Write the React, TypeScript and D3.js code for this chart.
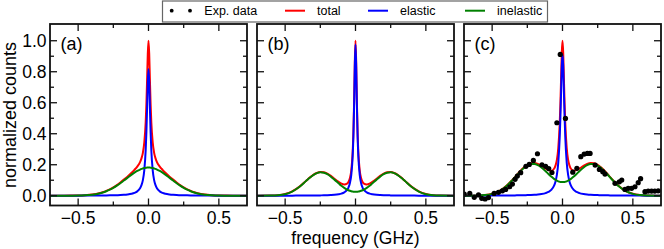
import React from "react";
import * as d3 from "d3";

// fitted curves are even in frequency: values read from 0 GHz outwards, mirrored below
const freqHalf = [0, 0.005, 0.01, 0.015, 0.02, 0.03, 0.04, 0.05, 0.06, 0.08, 0.1, 0.12, 0.15, 0.175, 0.2, 0.225, 0.25, 0.275, 0.3, 0.325, 0.35, 0.4, 0.45, 0.5, 0.55, 0.6, 0.7];

const totalA = [1.0, 0.918, 0.748, 0.59, 0.474, 0.343, 0.277, 0.241, 0.217, 0.188, 0.167, 0.1485, 0.123, 0.104, 0.0856, 0.0686, 0.0539, 0.0414, 0.031, 0.0227, 0.0165, 0.0082, 0.0039, 0.0017, 0.001, 0.0006, 0.0004];
const elasticA = [0.818, 0.736, 0.566, 0.409, 0.294, 0.164, 0.101, 0.068, 0.048, 0.028, 0.018, 0.0125, 0.0081, 0.006, 0.0046, 0.0036, 0.0029, 0.0024, 0.002, 0.0017, 0.0015, 0.0012, 0.0009, 0.0007, 0.0006, 0.0005, 0.0004];
const inelasticA = [0.182, 0.182, 0.182, 0.181, 0.18, 0.179, 0.176, 0.173, 0.169, 0.16, 0.149, 0.136, 0.115, 0.098, 0.081, 0.065, 0.051, 0.039, 0.029, 0.021, 0.015, 0.007, 0.003, 0.001, 0.0004, 0.0001, 0];

const totalB = [1.0, 0.856, 0.601, 0.406, 0.285, 0.164, 0.113, 0.0885, 0.0775, 0.0725, 0.078, 0.0897, 0.11, 0.128, 0.1425, 0.151, 0.153, 0.147, 0.135, 0.117, 0.097, 0.057, 0.028, 0.011, 0.0035, 0.0012, 0.0003];
const elasticB = [0.975, 0.831, 0.575, 0.38, 0.258, 0.135, 0.081, 0.053, 0.0375, 0.0215, 0.0138, 0.0097, 0.0062, 0.0046, 0.0035, 0.0028, 0.0022, 0.0019, 0.0016, 0.0013, 0.0011, 0.0009, 0.0007, 0.0006, 0.0005, 0.0004, 0.0003];
const inelasticB = [0.025, 0.0254, 0.0257, 0.0262, 0.0269, 0.029, 0.032, 0.0355, 0.04, 0.051, 0.064, 0.08, 0.104, 0.123, 0.139, 0.1485, 0.151, 0.1455, 0.133, 0.116, 0.096, 0.056, 0.027, 0.01, 0.003, 0.0008, 0];

const totalC = [1.0, 0.924, 0.757, 0.591, 0.462, 0.307, 0.231, 0.194, 0.174, 0.1616, 0.165, 0.175, 0.193, 0.205, 0.211, 0.209, 0.199, 0.182, 0.16, 0.134, 0.1085, 0.0626, 0.03, 0.013, 0.0048, 0.0019, 0.0006];
const elasticC = [0.912, 0.836, 0.669, 0.502, 0.372, 0.214, 0.134, 0.091, 0.065, 0.0376, 0.0244, 0.0171, 0.011, 0.0081, 0.0062, 0.0049, 0.004, 0.0033, 0.0028, 0.0024, 0.002, 0.0016, 0.0012, 0.001, 0.0008, 0.0007, 0.0005];
const inelasticC = [0.088, 0.088, 0.088, 0.089, 0.09, 0.093, 0.097, 0.103, 0.109, 0.124, 0.1405, 0.158, 0.182, 0.197, 0.2045, 0.204, 0.195, 0.179, 0.157, 0.132, 0.1065, 0.061, 0.029, 0.012, 0.004, 0.0012, 0.0001];

// measured points, panel (c)
const expFreq = [-0.698, -0.659, -0.627, -0.597, -0.574, -0.55, -0.526, -0.486, -0.455, -0.427, -0.404, -0.375, -0.356, -0.337, -0.321, -0.297, -0.26, -0.236, -0.207, -0.178, -0.146, -0.12, -0.098, -0.075, -0.04, -0.016, 0.021, 0.073, 0.102, 0.13, 0.154, 0.177, 0.196, 0.232, 0.262, 0.286, 0.302, 0.373, 0.404, 0.421, 0.444, 0.467, 0.491, 0.515, 0.538, 0.555, 0.586, 0.609, 0.633, 0.656, 0.68];
const expCounts = [0.011, 0.015, -0.01, 0.005, -0.017, -0.021, -0.012, 0.015, 0.022, 0.032, 0.041, 0.058, 0.075, 0.106, 0.127, 0.149, 0.19, 0.202, 0.228, 0.271, 0.2, 0.19, 0.175, 0.15, 0.471, 0.912, 0.499, 0.152, 0.177, 0.252, 0.269, 0.273, 0.273, 0.198, 0.17, 0.155, 0.14, 0.08, 0.09, 0.101, 0.041, 0.048, 0.048, 0.058, 0.084, 0.11, 0.026, 0.03, 0.03, 0.03, 0.032];

const panelNames = ["(a)", "(b)", "(c)"];
const xMajor = [-0.5, 0, 0.5];
const xMinor = [-0.25, 0.25];
const yMajor = [0, 0.2, 0.4, 0.6, 0.8, 1.0];
const yMinor = [0.1, 0.3, 0.5, 0.7, 0.9];

const legendItems = [
  { label: "total", color: "#ff0000" },
  { label: "elastic", color: "#0000ff" },
  { label: "inelastic", color: "#008000" },
];

const font = "'Liberation Sans', Arial, Helvetica, sans-serif";
const panelLeft = [50, 257, 464];
const panelW = 197;
const top = 24;
const bottom = 205.5;
const tickFont = 17.5;

const mirror = (half: number[], neg: boolean) =>
  half.slice(1).reverse().map((v) => (neg ? -v : v)).concat(half);

const freq = mirror(freqHalf, true);

const panels = [
  { total: totalA, elastic: elasticA, inelastic: inelasticA, exp: false },
  { total: totalB, elastic: elasticB, inelastic: inelasticB, exp: false },
  { total: totalC, elastic: elasticC, inelastic: inelasticC, exp: true },
];

const y = d3.scaleLinear().domain([-0.063, 1.108]).range([bottom, top]);
const fmt = d3.format(".1f");

function Panel({ idx }: { idx: number }) {
  const p = panels[idx];
  const left = panelLeft[idx];
  const x = d3.scaleLinear().domain([-0.7, 0.7]).range([left, left + panelW]);
  const line = d3
    .line<number>()
    .x((_, i) => x(freq[i]))
    .y((d) => y(d))
    .curve(d3.curveMonotoneX);

  const series = [
    { vals: mirror(p.total, false), color: "#ff0000" },
    { vals: mirror(p.elastic, false), color: "#0000ff" },
    { vals: mirror(p.inelastic, false), color: "#008000" },
  ];

  const tick = "#111";
  return (
    <g>
      <defs>
        <clipPath id={"clip" + idx}>
          <rect x={left} y={top} width={panelW} height={bottom - top} />
        </clipPath>
      </defs>
      <g clipPath={`url(#clip${idx})`}>
        {series.map((s, i) => (
          <path key={i} d={line(s.vals) || ""} fill="none" stroke={s.color} strokeWidth={2} />
        ))}
        {p.exp &&
          expFreq.map((f, i) => (
            <circle key={i} cx={x(f)} cy={y(expCounts[i])} r={2.6} fill="#000" />
          ))}
      </g>
      {xMajor.map((t) => (
        <g key={"xM" + t}>
          <line x1={x(t)} x2={x(t)} y1={bottom} y2={bottom - 7} stroke={tick} strokeWidth={1.3} />
          <line x1={x(t)} x2={x(t)} y1={top} y2={top + 7} stroke={tick} strokeWidth={1.3} />
          <text x={x(t)} y={224} textAnchor="middle" fontSize={tickFont} fontFamily={font} fill="#000">
            {fmt(t)}
          </text>
        </g>
      ))}
      {xMinor.map((t) => (
        <g key={"xm" + t}>
          <line x1={x(t)} x2={x(t)} y1={bottom} y2={bottom - 4} stroke={tick} strokeWidth={1.3} />
          <line x1={x(t)} x2={x(t)} y1={top} y2={top + 4} stroke={tick} strokeWidth={1.3} />
        </g>
      ))}
      {yMajor.map((t) => (
        <g key={"yM" + t}>
          <line x1={left} x2={left + 7} y1={y(t)} y2={y(t)} stroke={tick} strokeWidth={1.3} />
          <line x1={left + panelW} x2={left + panelW - 7} y1={y(t)} y2={y(t)} stroke={tick} strokeWidth={1.3} />
          {idx === 0 && (
            <text x={46.5} y={y(t)} dy="0.35em" textAnchor="end" fontSize={tickFont} fontFamily={font} fill="#000">
              {fmt(t)}
            </text>
          )}
        </g>
      ))}
      {yMinor.map((t) => (
        <g key={"ym" + t}>
          <line x1={left} x2={left + 4} y1={y(t)} y2={y(t)} stroke={tick} strokeWidth={1.3} />
          <line x1={left + panelW} x2={left + panelW - 4} y1={y(t)} y2={y(t)} stroke={tick} strokeWidth={1.3} />
        </g>
      ))}
      <rect x={left} y={top} width={panelW} height={bottom - top} fill="none" stroke="#111" strokeWidth={1.8} />
      <text x={left + 10.5} y={50} fontSize={18} fontFamily={font} fill="#000">
        {panelNames[idx]}
      </text>
    </g>
  );
}

export default function App() {
  return (
    <svg
      width={664}
      height={249}
      style={{ position: "absolute", left: 0, top: 0, background: "#fff" }}
    >
      {[0, 1, 2].map((i) => (
        <Panel key={i} idx={i} />
      ))}
      <text
        transform="translate(15.5,115) rotate(-90)"
        textAnchor="middle"
        fontSize={18}
        fontFamily={font}
        fill="#000"
      >
        normalized counts
      </text>
      <text x={355.5} y={244} textAnchor="middle" fontSize={17.5} fontFamily={font} fill="#000">
        frequency (GHz)
      </text>
      <g>
        <rect x={162.5} y={1} width={385} height={21} fill="#fff" stroke="#666" strokeWidth={1.2} />
        <circle cx={171.7} cy={10.7} r={1.9} fill="#000" />
        <circle cx={190} cy={10.7} r={1.9} fill="#000" />
        <text x={204.3} y={15} fontSize={12.5} fontFamily={font} fill="#000">
          Exp. data
        </text>
        {legendItems.map((d, i) => {
          const lx = [285, 368, 465][i];
          return (
            <g key={d.label}>
              <line x1={lx} x2={lx + 20} y1={10.7} y2={10.7} stroke={d.color} strokeWidth={2} />
              <text x={lx + 32} y={15} fontSize={12.5} fontFamily={font} fill="#000">
                {d.label}
              </text>
            </g>
          );
        })}
      </g>
    </svg>
  );
}
